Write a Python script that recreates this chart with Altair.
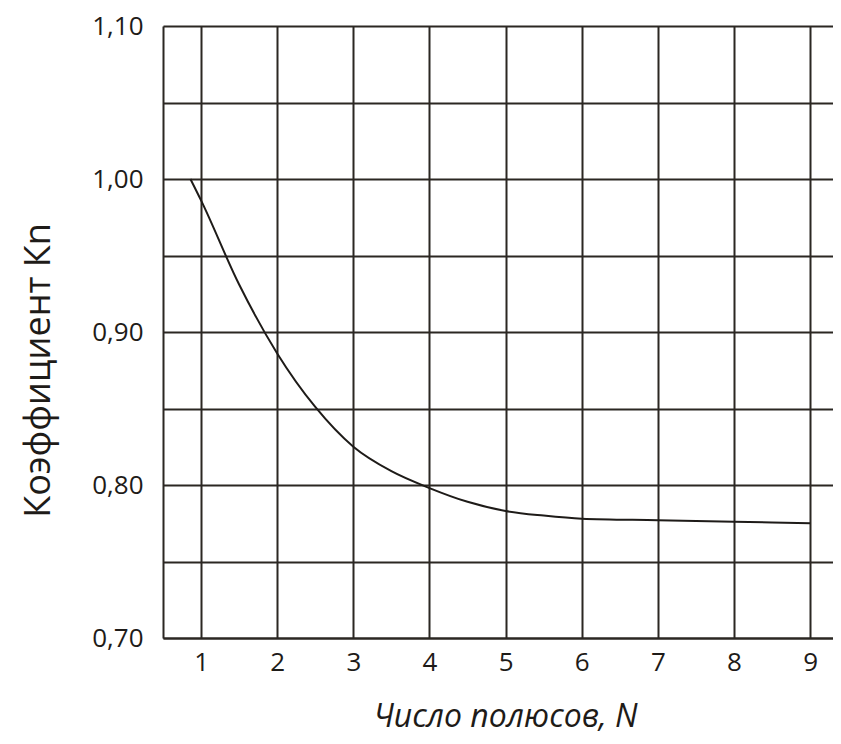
import altair as alt
import pandas as pd

# Curve
n_vals = [0.86, 1.0, 1.5, 2.0, 2.5, 3.0, 3.5, 4.0, 4.5, 5.0, 5.5, 6.0, 7.0, 8.0, 9.0]
kn_vals = [1.000, 0.986, 0.931, 0.886, 0.851, 0.825, 0.809, 0.798, 0.789, 0.783, 0.780, 0.778, 0.777, 0.776, 0.775]

x_ticks = [1, 2, 3, 4, 5, 6, 7, 8, 9]
y_grid = [0.70, 0.75, 0.80, 0.85, 0.90, 0.95, 1.00, 1.05, 1.10]

df = pd.DataFrame({"N": n_vals, "Kn": kn_vals})

FONT = "Open Sans"
GRID = "#2b2722"
TEXT = "#1e1b18"

chart = alt.Chart(df).mark_line(
    color=TEXT, strokeWidth=2, interpolate="monotone"
).encode(
    x=alt.X(
        "N:Q",
        scale=alt.Scale(domain=[0.5, 9.3], nice=False, zero=False),
        axis=alt.Axis(
            values=x_ticks,
            title="Число полюсов, N",
            titleFont=FONT,
            titleFontSize=32,
            titleFontWeight="normal",
            titleFontStyle="italic",
            titleColor=TEXT,
            titleX=342,
            titleY=88,
            titleBaseline="alphabetic",
            titleAnchor="start",
            titleAlign="center",
            labelFont=FONT,
            labelFontSize=26,
            labelColor=TEXT,
            labelPadding=11,
            ticks=False,
            grid=True,
            gridColor=GRID,
            gridWidth=2,
            gridOpacity=1,
            domainColor=GRID,
            domainWidth=2,
        ),
    ),
    y=alt.Y(
        "Kn:Q",
        scale=alt.Scale(domain=[0.70, 1.10], nice=False, zero=False),
        axis=alt.Axis(
            values=y_grid,
            title="Коэффициент Кn",
            titleFont=FONT,
            titleFontSize=36,
            titleFontWeight="normal",
            titleColor=TEXT,
            titleX=-114,
            titleY=344,
            titleAngle=-90,
            titleAlign="center",
            titleAnchor="start",
            titleBaseline="alphabetic",
            labelFont=FONT,
            labelFontSize=26,
            labelColor=TEXT,
            labelPadding=20,
            labelExpr="abs(datum.value*10 - round(datum.value*10)) < 0.001 ? replace(format(datum.value, '.2f'), '.', ',') : ''",
            ticks=False,
            grid=True,
            gridColor=GRID,
            gridWidth=2,
            gridOpacity=1,
            domainColor=GRID,
            domainWidth=2,
        ),
    ),
).properties(
    width=670,
    height=612,
    autosize=alt.AutoSizeParams(type="none"),
    padding={"left": 155, "top": 18, "right": 0, "bottom": 98},
).configure_view(stroke=None).configure(background="white")

chart.save("out.html", embed_options={"renderer": "svg", "actions": False})
